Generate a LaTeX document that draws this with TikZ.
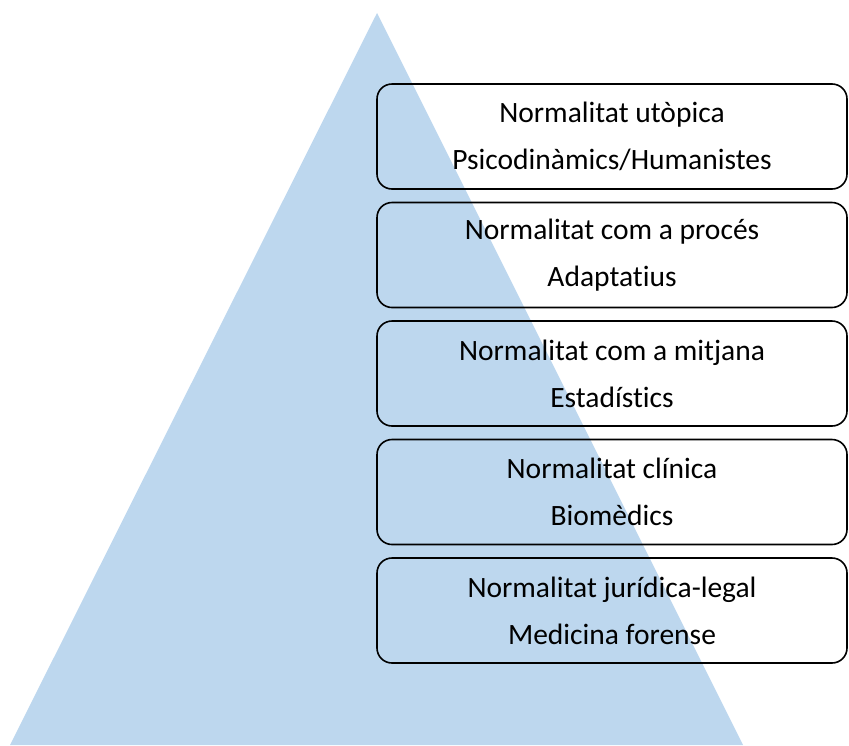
\documentclass[tikz,border=0pt]{standalone}
\usepackage{fontspec}
\setmainfont{Carlito}[Ligatures={NoCommon}]
\definecolor{triblue}{RGB}{189,215,238}
\begin{document}
\begin{tikzpicture}[x=1pt,y=-1pt,
  levelbox/.style={draw=black, line width=1.6pt, rounded corners=15pt,
    minimum width=470pt, minimum height=105pt, align=center, inner sep=0pt,
    font=\fontsize{29.5}{47}\selectfont, text=black}]
\useasboundingbox (0,0) rectangle (849,745);
\fill[triblue] (377,13) -- (743,745) -- (10,745) -- cycle;
\node[levelbox] (b1) at (612,136.5) {Normalitat utòpica\\Psicodinàmics/Humanistes};
\node[levelbox] (b2) at (612,255) {Normalitat com a procés\\Adaptatius};
\node[levelbox] (b3) at (612,373.5) {Normalitat com a mitjana\\Estadístics};
\node[levelbox] (b4) at (612,492) {Normalitat clínica\\Biomèdics};
\node[levelbox] (b5) at (612,610.5) {Normalitat jurídica-legal\\Medicina forense};
\end{tikzpicture}
\end{document}
